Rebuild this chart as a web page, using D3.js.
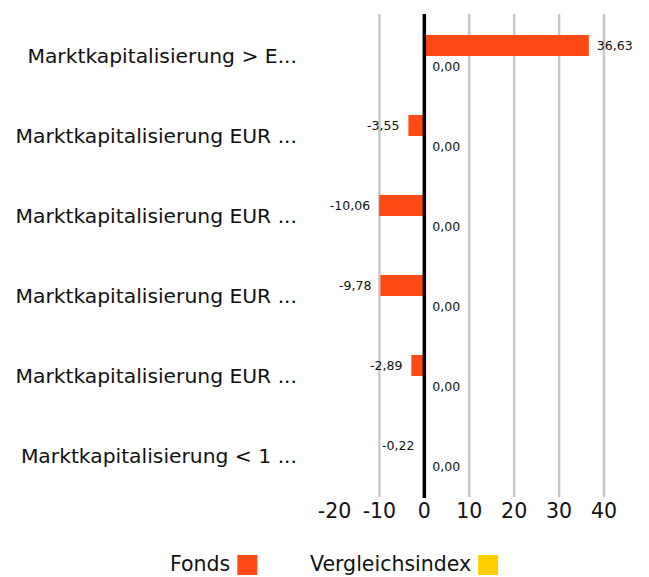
<!DOCTYPE html>
<html>
<head>
<meta charset="utf-8">
<script src="https://cdn.jsdelivr.net/npm/d3@7"></script>
<style>
  body { margin: 0; background: #fff; }
  text { font-family: "DejaVu Sans", sans-serif; fill: #111; }
</style>
</head>
<body>
<svg id="chart"></svg>
<script>
// categories and values
const categories = [
  "Marktkapitalisierung > E...",
  "Marktkapitalisierung EUR ...",
  "Marktkapitalisierung EUR ...",
  "Marktkapitalisierung EUR ...",
  "Marktkapitalisierung EUR ...",
  "Marktkapitalisierung < 1 ..."
];
const fonds = [36.63, -3.55, -10.06, -9.78, -2.89, -0.22];
const vergleichsindex = [0, 0, 0, 0, 0, 0];
const seriesNames = ["Fonds", "Vergleichsindex"];
const xTicks = [-20, -10, 0, 10, 20, 30, 40];

const WIDTH = 649, HEIGHT = 577;
const COLORS = ["#ff4a14", "#ffce00"];

const svg = d3.select("#chart").attr("width", WIDTH).attr("height", HEIGHT);

// x scale: 10 units ~ 45px, zero at 424
const x = d3.scaleLinear().domain([-20, 40]).range([334.5, 604]);
const y = d3.scaleBand().domain(d3.range(categories.length)).range([16, 496]).paddingInner(0.475).paddingOuter(0.2375);
const inner = d3.scaleBand().domain([0, 1]).range([0, y.bandwidth()]);

const fmt = v => d3.format(".2f")(v).replace(".", ",").replace("\u2212", "-");

// gridlines (no line at -20 in the reference)
svg.append("g").selectAll("line")
  .data(xTicks.filter(t => t > -20 && t !== 0))
  .enter().append("line")
  .attr("x1", d => x(d)).attr("x2", d => x(d))
  .attr("y1", 14).attr("y2", 497)
  .attr("stroke", "#c8c8c8").attr("stroke-width", 2.5);

// tick labels
svg.append("g").selectAll("text")
  .data(xTicks)
  .enter().append("text")
  .attr("x", d => x(d)).attr("y", 518)
  .attr("text-anchor", "middle")
  .attr("font-size", "20.5px")
  .text(d => d);

const series = [fonds, vergleichsindex];

series.forEach((vals, s) => {
  const g = svg.append("g");
  g.selectAll("rect")
    .data(vals)
    .enter().append("rect")
    .attr("x", d => x(Math.min(0, d)))
    .attr("width", d => Math.abs(x(d) - x(0)))
    .attr("y", (d, i) => y(i) + inner(s))
    .attr("height", inner.bandwidth())
    .attr("fill", COLORS[s]);

  g.selectAll("text")
    .data(vals)
    .enter().append("text")
    .attr("x", d => d < 0 ? x(d) - 9 : x(d) + 8)
    .attr("y", (d, i) => y(i) + inner(s) + inner.bandwidth() / 2)
    .attr("dy", "0.35em")
    .attr("text-anchor", d => d < 0 ? "end" : "start")
    .attr("font-size", "12.5px")
    .text(d => fmt(d));
});

// zero line
svg.append("line")
  .attr("x1", x(0)).attr("x2", x(0))
  .attr("y1", 14).attr("y2", 498)
  .attr("stroke", "#000").attr("stroke-width", 3.5);

// category labels
svg.append("g").selectAll("text")
  .data(categories)
  .enter().append("text")
  .attr("x", 297)
  .attr("y", (d, i) => y(i) + y.bandwidth() / 2)
  .attr("dy", "0.35em")
  .attr("text-anchor", "end")
  .attr("font-size", "20.3px")
  .text(d => d);

// legend
const legendX = [170, 310];
const leg = svg.append("g");
seriesNames.forEach((name, s) => {
  const t = leg.append("text")
    .attr("x", legendX[s]).attr("y", 571)
    .attr("font-size", "20.5px")
    .text(name);
  const w = t.node().getComputedTextLength();
  leg.append("rect")
    .attr("x", legendX[s] + w + 7).attr("y", 555)
    .attr("width", 20).attr("height", 20)
    .attr("fill", COLORS[s]);
});
</script>
</body>
</html>
